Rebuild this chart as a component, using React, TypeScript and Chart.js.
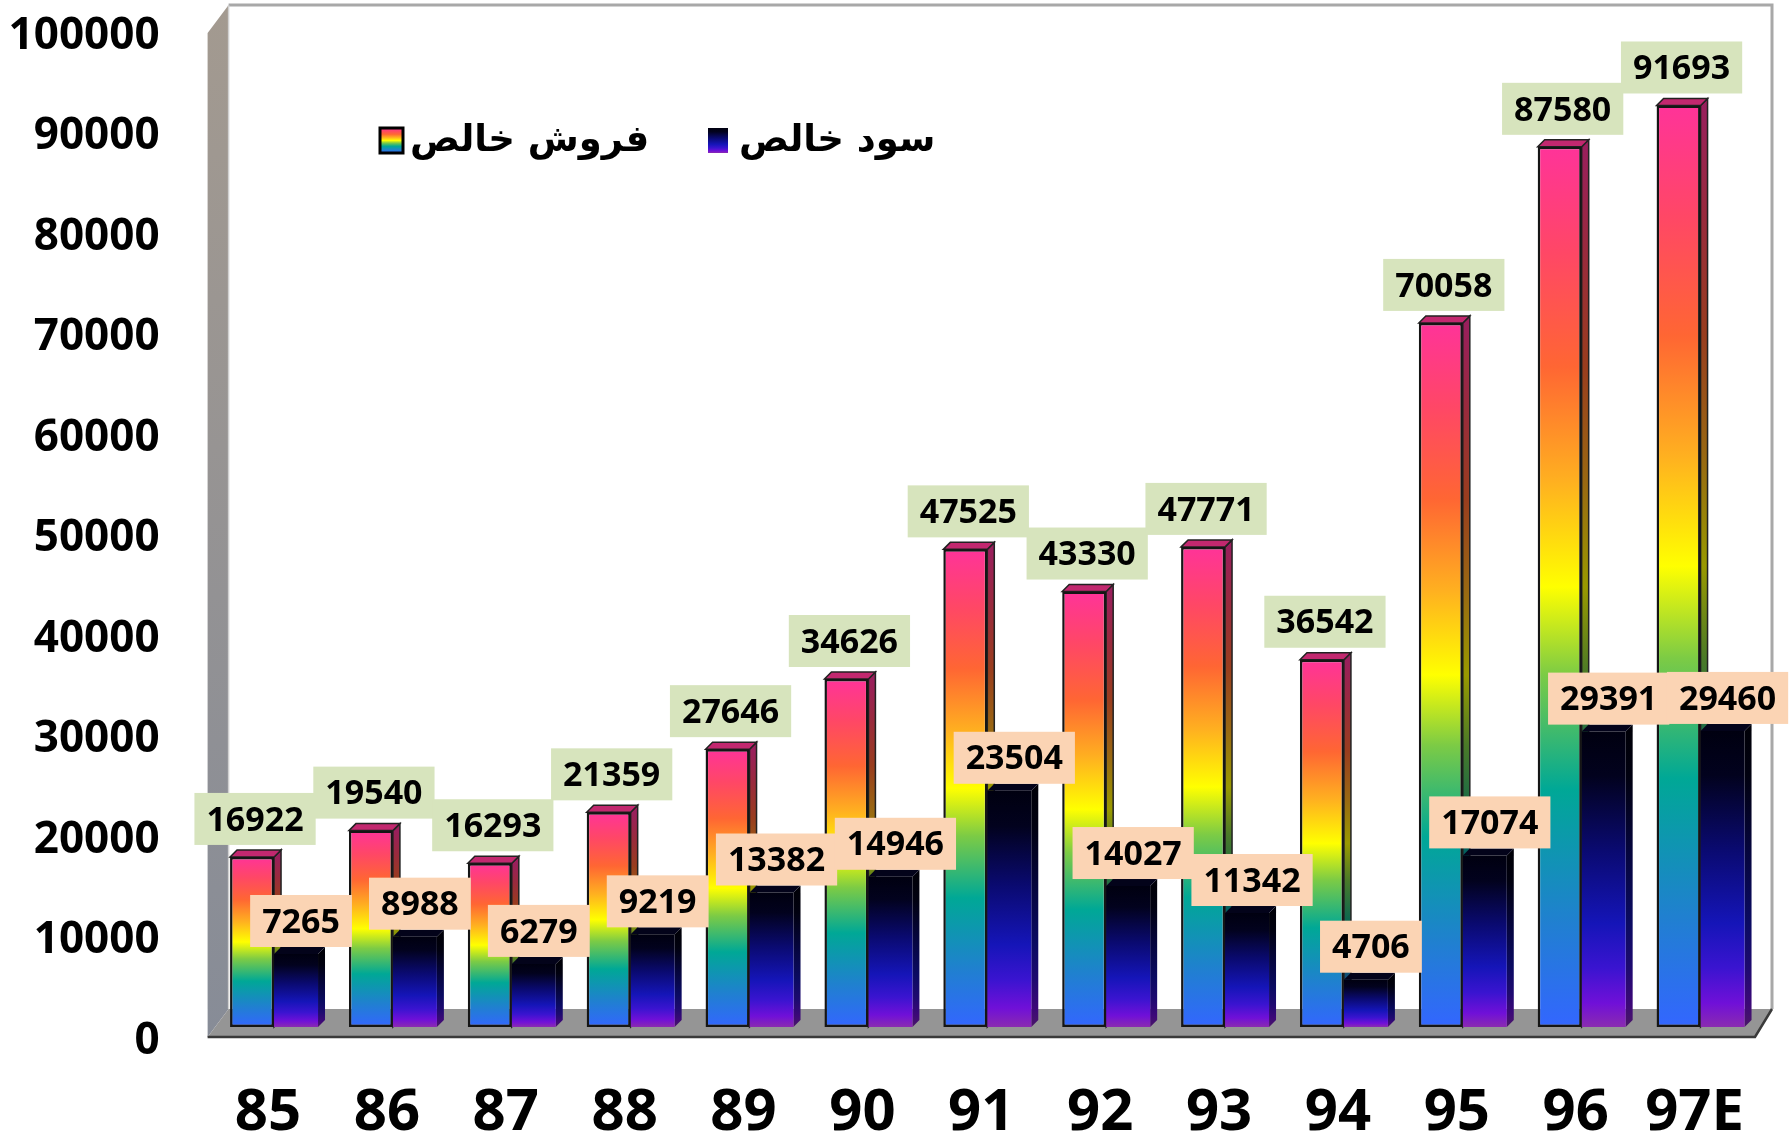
import React, { useEffect, useRef } from 'react';
import { Chart, registerables } from 'chart.js';

Chart.register(...registerables);

// ---------- data ----------
const categories = ['85', '86', '87', '88', '89', '90', '91', '92', '93', '94', '95', '96', '97E'];
const netSales = [16922, 19540, 16293, 21359, 27646, 34626, 47525, 43330, 47771, 36542, 70058, 87580, 91693];
const netProfit = [7265, 8988, 6279, 9219, 13382, 14946, 23504, 14027, 11342, 4706, 17074, 29391, 29460];
const seriesNames = ['فروش خالص', 'سود خالص'];
const yMax = 100000;
const yStep = 10000;

// ---------- styles ----------
const W = 1789;
const H = 1136;
const FONT = '"Noto Sans", "DejaVu Sans", sans-serif';
const DEPTH = 7;

const salesStops: [number, string][] = [
  [0, '#3366FF'],
  [0.12, '#2080D0'],
  [0.27, '#00A896'],
  [0.4, '#7CCB45'],
  [0.5, '#FFFF00'],
  [0.62, '#FFB020'],
  [0.75, '#FF6633'],
  [0.88, '#FF4766'],
  [1, '#FF3399'],
];
const salesSideStops: [number, string][] = [
  [0, '#1E3C96'],
  [0.12, '#134C7A'],
  [0.27, '#006358'],
  [0.4, '#4A7A28'],
  [0.5, '#999900'],
  [0.62, '#996812'],
  [0.75, '#993D1E'],
  [0.88, '#992A3D'],
  [1, '#991F5C'],
];
const profitStops: [number, string][] = [
  [0, '#8A2BB0'],
  [0.08, '#7010D8'],
  [0.2, '#3A14D0'],
  [0.35, '#1515B8'],
  [0.6, '#0A0A70'],
  [0.85, '#02021E'],
  [1, '#000010'],
];
const profitSideStops: [number, string][] = [
  [0, '#4A1768'],
  [0.08, '#3C0878'],
  [0.2, '#1E0A70'],
  [0.35, '#0B0B62'],
  [0.6, '#05053C'],
  [0.85, '#010110'],
  [1, '#000008'],
];

function grad(ctx: CanvasRenderingContext2D, bottom: number, top: number, stops: [number, string][]) {
  const g = ctx.createLinearGradient(0, bottom, 0, top);
  stops.forEach(([o, c]) => g.addColorStop(o, c));
  return g;
}

function barFill(stops: [number, string][], fallback: string) {
  return (c: any) => {
    const chart = c.chart;
    if (!chart.chartArea || !chart.scales || !chart.scales.y || c.raw == null) return fallback;
    const y = chart.scales.y;
    return grad(chart.ctx, y.getPixelForValue(0), y.getPixelForValue(c.raw), stops);
  };
}

const threeDPlugin = {
  id: 'threeD',
  beforeDraw(chart: any) {
    const { ctx, chartArea } = chart;
    const fx = chartArea.left - 7; // front-left corner x
    const fy = chartArea.bottom + 10; // front floor edge y
    const dx = 21;
    const dy = 28;
    const topY = 5;
    const backR = chartArea.right + 12;
    ctx.save();
    // back wall
    ctx.fillStyle = '#FFFFFF';
    ctx.fillRect(fx + dx, topY, backR - fx - dx, fy - dy - topY);
    ctx.strokeStyle = '#A8A8A8';
    ctx.lineWidth = 3;
    ctx.beginPath();
    ctx.moveTo(fx + dx, topY);
    ctx.lineTo(backR, topY);
    ctx.lineTo(backR, fy - dy);
    ctx.stroke();
    // left wall
    const lg = ctx.createLinearGradient(0, topY, 0, fy);
    lg.addColorStop(0, '#A39A90');
    lg.addColorStop(1, '#878C97');
    ctx.fillStyle = lg;
    ctx.beginPath();
    ctx.moveTo(fx, topY + dy);
    ctx.lineTo(fx + dx, topY);
    ctx.lineTo(fx + dx, fy - dy);
    ctx.lineTo(fx, fy);
    ctx.closePath();
    ctx.fill();
    ctx.strokeStyle = '#D0D0D0';
    ctx.lineWidth = 1.5;
    ctx.beginPath();
    ctx.moveTo(fx + dx, topY);
    ctx.lineTo(fx + dx, fy - dy);
    ctx.stroke();
    // floor
    ctx.fillStyle = '#959595';
    ctx.beginPath();
    ctx.moveTo(fx, fy);
    ctx.lineTo(backR - 17, fy);
    ctx.lineTo(backR, fy - dy);
    ctx.lineTo(fx + dx, fy - dy);
    ctx.closePath();
    ctx.fill();
    ctx.strokeStyle = '#3A3A3A';
    ctx.lineWidth = 2.5;
    ctx.beginPath();
    ctx.moveTo(fx, fy);
    ctx.lineTo(backR - 17, fy);
    ctx.lineTo(backR, fy - dy);
    ctx.stroke();
    ctx.restore();
  },
  beforeDatasetsDraw(chart: any) {
    const { ctx } = chart;
    const d = DEPTH;
    chart.data.datasets.forEach((ds: any, di: number) => {
      const meta = chart.getDatasetMeta(di);
      meta.data.forEach((bar: any) => {
        const { x, y, base, width } = bar.getProps(['x', 'y', 'base', 'width'], true);
        const l = x - width / 2;
        const r = x + width / 2;
        ctx.save();
        // side face
        ctx.fillStyle = grad(ctx, base, y, di === 0 ? salesSideStops : profitSideStops);
        ctx.beginPath();
        ctx.moveTo(r, y);
        ctx.lineTo(r + d, y - d);
        ctx.lineTo(r + d, base - d);
        ctx.lineTo(r, base);
        ctx.closePath();
        ctx.fill();
        if (di === 0) {
          ctx.strokeStyle = '#222';
          ctx.lineWidth = 1.5;
          ctx.stroke();
        }
        // top face
        ctx.fillStyle = di === 0 ? '#C2286F' : '#03031A';
        ctx.beginPath();
        ctx.moveTo(l, y);
        ctx.lineTo(l + d, y - d);
        ctx.lineTo(r + d, y - d);
        ctx.lineTo(r, y);
        ctx.closePath();
        ctx.fill();
        if (di === 0) {
          ctx.strokeStyle = '#222';
          ctx.lineWidth = 1.5;
          ctx.stroke();
        }
        ctx.restore();
      });
    });
  },
  afterDatasetsDraw(chart: any) {
    const { ctx } = chart;
    ctx.save();
    ctx.font = `bold 34px ${FONT}`;
    ctx.textAlign = 'center';
    ctx.textBaseline = 'middle';
    const drawLabel = (cx: number, cy: number, text: string, bg: string) => {
      const tw = ctx.measureText(text).width;
      const bw = tw + 24;
      const bh = 52;
      ctx.fillStyle = bg;
      ctx.fillRect(cx - bw / 2, cy - bh / 2, bw, bh);
      ctx.fillStyle = '#000';
      ctx.fillText(text, cx, cy + 2);
    };
    const m0 = chart.getDatasetMeta(0);
    m0.data.forEach((bar: any, i: number) => {
      drawLabel(bar.x + 3, bar.y - 38, String(netSales[i]), '#D7E4BD');
    });
    const m1 = chart.getDatasetMeta(1);
    m1.data.forEach((bar: any, i: number) => {
      drawLabel(bar.x + 5, bar.y - 33, String(netProfit[i]), '#FBD4B4');
    });

    // legend
    ctx.font = `bold 37px "DejaVu Sans", sans-serif`;
    ctx.textAlign = 'left';
    ctx.textBaseline = 'middle';
    const b1x = 380, b1y = 128, bw = 23, bh = 25;
    ctx.fillStyle = grad(ctx, b1y + bh, b1y, salesStops);
    ctx.fillRect(b1x, b1y, bw, bh);
    ctx.strokeStyle = '#000';
    ctx.lineWidth = 3;
    ctx.strokeRect(b1x, b1y, bw, bh);
    ctx.fillStyle = '#000';
    ctx.fillText(seriesNames[0], b1x + bw + 7, 141);
    const b2x = 708;
    ctx.fillStyle = grad(ctx, b1y + bh, b1y, profitStops);
    ctx.fillRect(b2x, b1y, 20, bh);
    ctx.fillStyle = '#000';
    ctx.fillText(seriesNames[1], b2x + 20 + 11, 141);
    ctx.restore();
  },
};

export default function App() {
  const ref = useRef<HTMLCanvasElement | null>(null);
  useEffect(() => {
    document.body.style.margin = '0';
    document.body.style.background = '#FFFFFF';
    const canvas = ref.current;
    if (!canvas) return;
    const chart = new Chart(canvas, {
      type: 'bar',
      data: {
        labels: categories,
        datasets: [
          {
            label: seriesNames[0],
            data: netSales,
            backgroundColor: barFill(salesStops, '#FF6633'),
            borderColor: '#151515',
            borderWidth: 2.5,
            borderSkipped: false,
            categoryPercentage: 0.74,
            barPercentage: 1,
          },
          {
            label: seriesNames[1],
            data: netProfit,
            backgroundColor: barFill(profitStops, '#0A0A70'),
            borderWidth: 0,
            categoryPercentage: 0.74,
            barPercentage: 1,
          },
        ],
      },
      options: {
        responsive: false,
        animation: false,
        devicePixelRatio: 1,
        layout: { padding: { top: 22, right: 29, left: 0, bottom: 0 } },
        plugins: {
          legend: { display: false },
          tooltip: { enabled: false },
        },
        scales: {
          x: {
            grid: { display: false },
            border: { display: false },
            ticks: {
              color: '#000',
              font: { family: FONT, size: 58, weight: 'bold' },
              padding: 44,
              labelOffset: -6,
              maxRotation: 0,
              autoSkip: false,
            },
            afterFit: (s: any) => {
              s.height = 109;
              s.paddingLeft = 0;
              s.paddingRight = 0;
            },
          },
          y: {
            min: 0,
            max: yMax,
            grid: { display: false },
            border: { display: false },
            ticks: {
              stepSize: yStep,
              color: '#000',
              font: { family: FONT, size: 44, weight: 'bold' },
              padding: 47,
              labelOffset: 14,
              callback: (v: any) => String(v),
            },
            afterFit: (s: any) => {
              s.width = 214.6;
              s.paddingTop = 0;
              s.paddingBottom = 0;
            },
          },
        },
      },
      plugins: [threeDPlugin],
    });
    return () => chart.destroy();
  }, []);
  return (
    <canvas
      ref={ref}
      width={W}
      height={H}
      style={{ display: 'block', width: W + 'px', height: H + 'px' }}
    />
  );
}
